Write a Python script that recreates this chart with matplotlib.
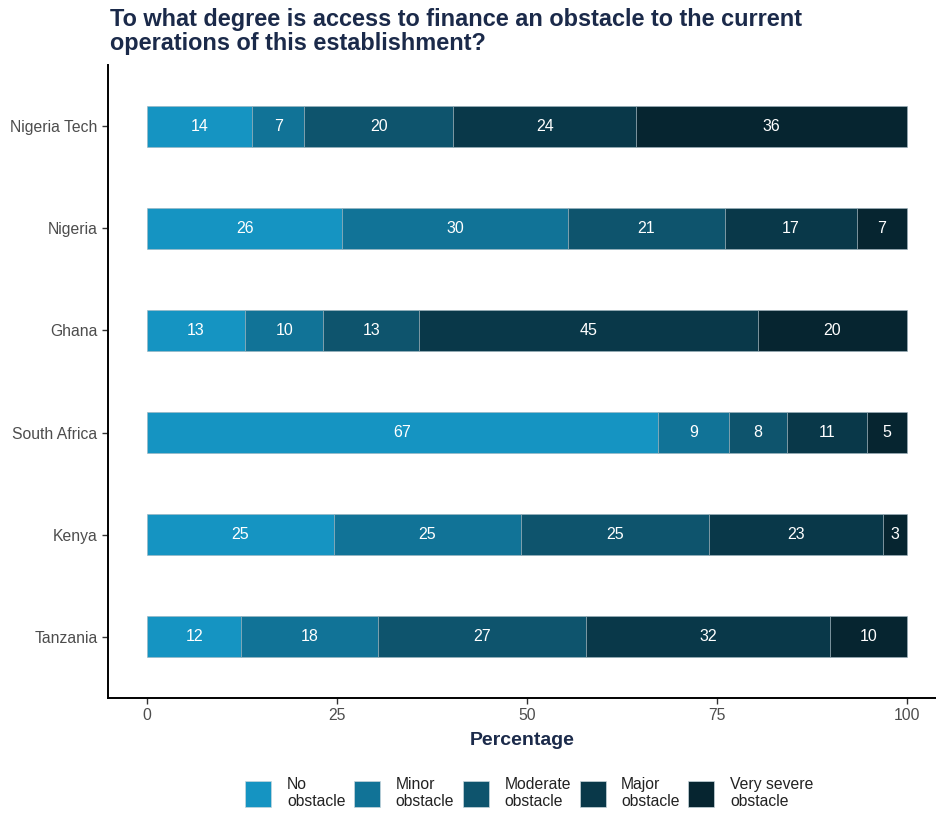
import matplotlib
matplotlib.use("Agg")
import matplotlib.pyplot as plt
from matplotlib.patches import Patch
import numpy as np

plt.rcParams['font.family'] = ['Liberation Sans', 'DejaVu Sans']

countries = ["Nigeria Tech", "Nigeria", "Ghana", "South Africa", "Kenya", "Tanzania"]
categories = ["No\nobstacle", "Minor\nobstacle", "Moderate\nobstacle", "Major\nobstacle", "Very severe\nobstacle"]
no_obstacle = [13.8, 25.7, 12.9, 67.2, 24.6, 12.4]
minor = [6.9, 29.7, 10.3, 9.4, 24.6, 18.0]
moderate = [19.6, 20.6, 12.6, 7.6, 24.7, 27.4]
major = [24.1, 17.4, 44.6, 10.6, 22.9, 32.1]
very_severe = [35.6, 6.6, 19.6, 5.2, 3.2, 10.1]
colors = ["#1594C2", "#117397", "#0E546D", "#093849", "#062530"]

series = [no_obstacle, minor, moderate, major, very_severe]

fig = plt.figure(figsize=(9.37, 8.17), dpi=100)
ax = fig.add_axes([108/937, 119/817, 1 - 108/937, (698-65)/817])

y = np.arange(len(countries))[::-1]
left = np.zeros(len(countries))
for vals, col in zip(series, colors):
    vals = np.array(vals)
    ax.barh(y, vals, left=left, height=0.4, color=col, edgecolor="#9DB3BD", linewidth=0.4)
    for yi, l, v in zip(y, left, vals):
        ax.text(l + v/2, yi, f"{v:.0f}", ha="center", va="center", color="white", fontsize=11.5)
    left += vals

ax.set_xlim(-5.13, 103.95)
ax.set_ylim(-0.6, len(countries) - 0.4)
ax.set_yticks(y)
ax.set_yticklabels(countries)
ax.set_xticks([0, 25, 50, 75, 100])
ax.tick_params(axis="both", colors="#333333", labelcolor="#4D4D4D", labelsize=11.3, length=4, width=1)
for s in ["top", "right"]:
    ax.spines[s].set_visible(False)
for s in ["left", "bottom"]:
    ax.spines[s].set_linewidth(1.4)
    ax.spines[s].set_color("black")
ax.set_xlabel("Percentage", fontsize=14, fontweight="bold", color="#1B2A4A", labelpad=6)

fig.text(110/937, 1 - 8/817, "To what degree is access to finance an obstacle to the current\noperations of this establishment?",
         ha="left", va="top", fontsize=16.9, fontweight="bold", color="#1B2A4A", linespacing=1.05)

handles = [Patch(facecolor=c, edgecolor="#C8D6DC", linewidth=0.5) for c in colors]
fig.legend(handles, categories, loc="lower center", bbox_to_anchor=(0.565, -0.008), ncol=5,
           frameon=False, fontsize=11.3, handlelength=1.65, handleheight=2.2,
           handletextpad=1.0, columnspacing=0.55, labelcolor="#222222")

fig.savefig("out.png", dpi=100)
